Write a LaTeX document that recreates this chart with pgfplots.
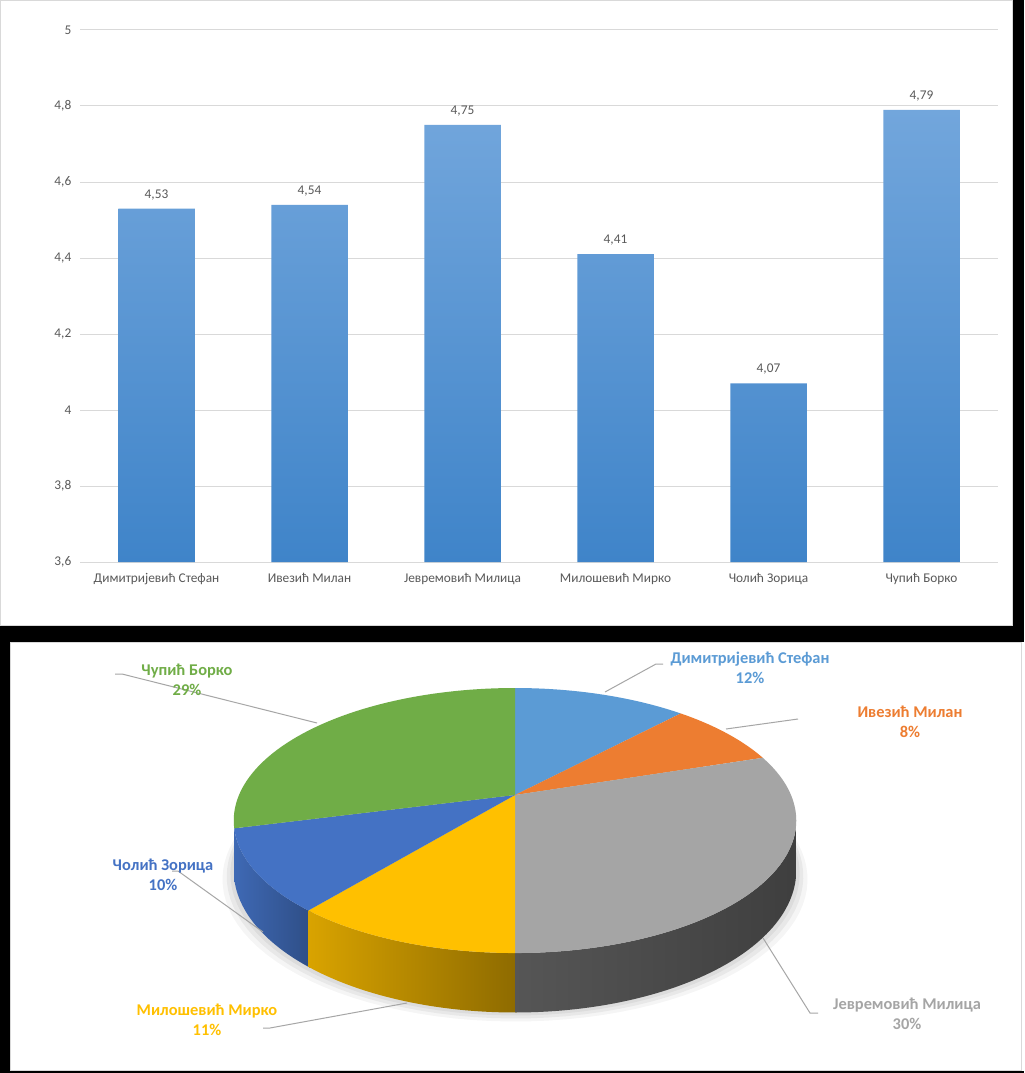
\documentclass[border=0pt]{standalone}
\usepackage{pgfplots}
\pgfplotsset{compat=1.18}
\usepackage{pgfplotstable}
\usepackage{fontspec}
\setmainfont{Carlito}
\definecolor{tickc}{HTML}{595959}
\definecolor{gridc}{HTML}{D9D9D9}
\definecolor{bartop}{HTML}{72A6DC}
\definecolor{barbot}{HTML}{3F84C9}
\definecolor{cLB}{HTML}{5B9BD5}
\definecolor{cOR}{HTML}{ED7D31}
\definecolor{cGR}{HTML}{A5A5A5}
\definecolor{cYE}{HTML}{FFC000}
\definecolor{cDB}{HTML}{4472C4}
\definecolor{cGN}{HTML}{70AD47}
\definecolor{leader}{HTML}{A6A6A6}

% bar chart values
\pgfplotstableread{
x y
0 4.53
1 4.54
2 4.75
3 4.41
4 4.07
5 4.79
}\bardata

% pie chart shares (percent)
\def\pLB{12}\def\pOR{8}\def\pGR{30}\def\pYE{11}\def\pDB{10}\def\pGN{29}

\begin{document}
\begin{tikzpicture}
\begin{scope}[x=0.75pt,y=-0.75pt]
\fill[black] (0,0) rectangle (1024,1073);
\fill[white] (0,0) rectangle (1013,626);
\draw[gridc, line width=0.75pt] (0.5,0.5) rectangle (1012.5,625.5);
\fill[white] (10,642) rectangle (1024,1071);
\draw[gridc, line width=0.75pt] (10.5,642.5) rectangle (1021.5,1070.5);
\end{scope}

\begin{axis}[
  at={(60pt,-421.5pt)}, anchor=south west,
  scale only axis, width=688.5pt, height=399pt,
  ybar, bar width=0.5,
  xmin=-0.5, xmax=5.5,
  ymin=3.6, ymax=5,
  y coord trafo/.code={\pgfmathparse{#1-3.6}},
  y coord inv trafo/.code={\pgfmathparse{#1+3.6}},
  ytick={3.6,3.8,4,4.2,4.4,4.6,4.8,5},
  yticklabels={{3,6},{3,8},{4},{4,2},{4,4},{4,6},{4,8},{5}},
  xtick={0,1,2,3,4,5},
  xticklabels={Димитријевић Стефан, Ивезић Милан, Јевремовић Милица, Милошевић Мирко, Чолић Зорица, Чупић Борко},
  ymajorgrids, grid style={gridc, line width=0.75pt},
  axis line style={draw=none},
  major tick length=0pt, tick style={draw=none},
  tick label style={font=\fontsize{10}{12}\selectfont, text=tickc},
  yticklabel style={xshift=-3pt},
  xticklabel style={yshift=-5pt},
  /pgf/number format/.cd, fixed, fixed zerofill, precision=2, use comma, assume math mode=true, /pgfplots/.cd,
  point meta=explicit,
  nodes near coords,
  nodes near coords style={font=\fontsize{10}{12}\selectfont, text=tickc, yshift=3pt},
  clip=false,
]
\addplot[draw=none, top color=bartop, bottom color=barbot] table[x=x, y=y, meta=y] {\bardata};
\end{axis}

\pgfmathsetmacro\aA{90}
\pgfmathsetmacro\aB{\aA-3.6*\pLB}
\pgfmathsetmacro\aC{\aB-3.6*\pOR}
\pgfmathsetmacro\aD{\aC-3.6*\pGR}
\pgfmathsetmacro\aE{\aD-3.6*\pYE}
\pgfmathsetmacro\aF{\aE-3.6*\pDB}
\pgfmathsetmacro\aG{\aF-3.6*\pGN}
\pgfmathsetmacro\vA{-180+asin(0.1926)}
\pgfmathsetmacro\vB{-asin(0.1926)}
\pgfmathsetmacro\aFx{\aF+1}
\pgfmathsetmacro\aEx{\aE+1}
\pgfmathsetmacro\aDx{\aD+1}

\begin{axis}[
  at={(7.5pt,-803.25pt)}, anchor=south west,
  x=0.75pt, y=0.75pt, hide axis,
  xmin=-505, xmax=509, ymin=-276, ymax=153,
  clip=false,
  declare function={
    pX(\tt)=276*cos(\tt)/(1+0.1926*sin(\tt));
    pY(\tt)=127.6*sin(\tt)/(1+0.1926*sin(\tt));
    pB(\tt)=(127.6*sin(\tt)-48)/(1+0.1926*sin(\tt));
    pth(\ss,\ta,\tb)=(\ss<=1)*((\ta)+((\tb)-(\ta))*\ss)+(\ss>1)*((\tb)+((\ta)-(\tb))*(\ss-1));
    sideY(\ss,\ta,\tb)=(\ss<=1)*pY(pth(\ss,\ta,\tb))+(\ss>1)*pB(pth(\ss,\ta,\tb));
    wX(\ss,\ta,\tb)=(\ss<=1)*pX((\ta)+((\tb)-(\ta))*\ss);
    wY(\ss,\ta,\tb)=(\ss<=1)*pY((\ta)+((\tb)-(\ta))*\ss);
  },
]
% soft shadow
\addplot[fill=black, fill opacity=0.04, draw=none, domain=0:360, samples=120] ({1.04*pX(x)},{pB(x)-9});
\addplot[fill=black, fill opacity=0.05, draw=none, domain=0:360, samples=120] ({1.025*pX(x)},{pB(x)-6});
\addplot[fill=black, fill opacity=0.05, draw=none, domain=0:360, samples=120] ({1.012*pX(x)},{pB(x)-3});
% sides
\addplot[draw=none, left color=cGN!80!black, right color=cGN!70!black, domain=0:2, samples=121] ({pX(pth(x,\vA,\aFx))},{sideY(x,\vA,\aFx)});
\addplot[draw=none, left color=cDB!92!black, right color=cDB!68!black, domain=0:2, samples=121] ({pX(pth(x,\aF,\aEx))},{sideY(x,\aF,\aEx)});
\addplot[draw=none, left color=cYE!85!black, right color=cYE!55!black, domain=0:2, samples=121] ({pX(pth(x,\aE,\aDx))},{sideY(x,\aE,\aDx)});
\addplot[draw=none, left color=cGR!52!black, right color=cGR!38!black, domain=0:2, samples=121] ({pX(pth(x,\aD,\vB))},{sideY(x,\aD,\vB)});
% top wedges
\addplot[fill=cLB, draw=none, domain=0:1.1, samples=111] ({wX(x,\aA,\aB)},{wY(x,\aA,\aB)});
\addplot[fill=cOR, draw=none, domain=0:1.1, samples=111] ({wX(x,\aB,\aC)},{wY(x,\aB,\aC)});
\addplot[fill=cGR, draw=none, domain=0:1.1, samples=111] ({wX(x,\aC,\aD)},{wY(x,\aC,\aD)});
\addplot[fill=cYE, draw=none, domain=0:1.1, samples=111] ({wX(x,\aD,\aE)},{wY(x,\aD,\aE)});
\addplot[fill=cDB, draw=none, domain=0:1.1, samples=111] ({wX(x,\aE,\aF)},{wY(x,\aE,\aF)});
\addplot[fill=cGN, draw=none, domain=0:1.1, samples=111] ({wX(x,\aF,\aG)},{wY(x,\aF,\aG)});
% leader lines
\draw[leader, line width=0.75pt] (-400,121) -- (-393,121) -- (-198,72);
\draw[leader, line width=0.75pt] (148,131) -- (141,131) -- (90,103);
\draw[leader, line width=0.75pt] (283,76) -- (211,66);
\draw[leader, line width=0.75pt] (303,-218) -- (295,-218) -- (248,-143);
\draw[leader, line width=0.75pt] (-252,-233) -- (-245,-233) -- (-108,-208);
\draw[leader, line width=0.75pt] (-343,-76) -- (-337,-76) -- (-252,-137);
% labels
\tikzset{pl/.style={font=\fontsize{12.3}{15}\selectfont\bfseries, align=center, inner sep=0pt}}
\node[pl, text=cGN] at (-328,115.5) {Чупић Борко\\29\%};
\node[pl, text=cLB] at (235,127) {Димитријевић Стефан\\12\%};
\node[pl, text=cOR] at (395,73) {Ивезић Милан\\8\%};
\node[pl, text=cGR] at (392,-219) {Јевремовић Милица\\30\%};
\node[pl, text=cYE] at (-308,-225) {Милошевић Мирко\\11\%};
\node[pl, text=cDB] at (-352,-79.5) {Чолић Зорица\\10\%};
\end{axis}

\pgfresetboundingbox
\useasboundingbox (0,0) rectangle (768pt,-804.75pt);
\end{tikzpicture}
\end{document}
